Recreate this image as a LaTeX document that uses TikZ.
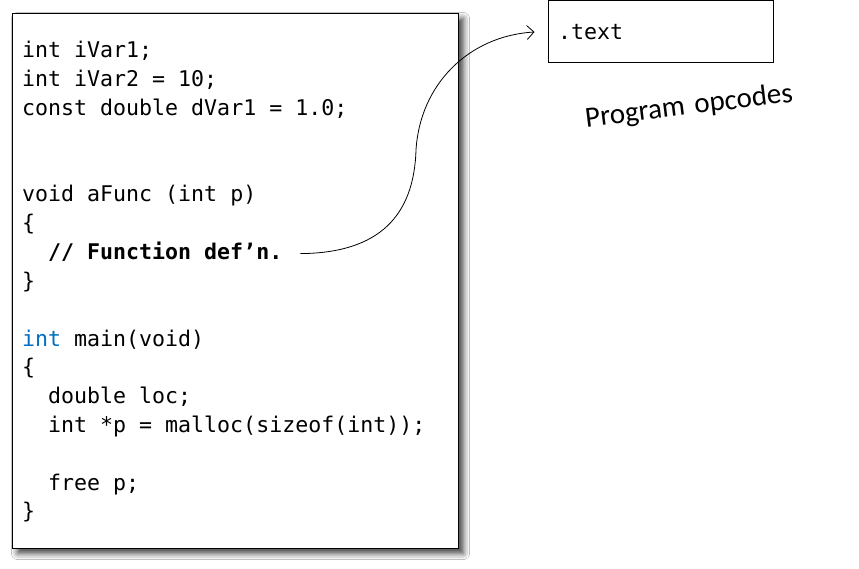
\documentclass[tikz,border=0pt]{standalone}
\usepackage{fontspec}
\setmonofont{DejaVu Sans Mono}
\newfontfamily\handfont{Carlito}
\usepackage{tikz}
\usetikzlibrary{arrows.meta,positioning,calc,shadows.blur}
\definecolor{kwblue}{HTML}{0070C0}

\begin{document}
\begin{tikzpicture}[
    x=1pt, y=-1pt,
    codeline/.style={anchor=base west, inner sep=0pt, font=\fontsize{21.6}{26}\selectfont\ttfamily},
    arrow/.style={-{Straight Barb[length=7pt,width=14pt]}, line width=0.8pt}
]
    \useasboundingbox[fill=white] (0,0) rectangle (859,569);

    % source listing
    \node[draw, line width=1pt, fill=white, anchor=north west, inner sep=0pt, minimum width=446pt, minimum height=535pt,
          blur shadow={shadow xshift=5pt, shadow yshift=-5pt, shadow blur radius=6pt, shadow opacity=75}] (source) at (12,13) {};

    \node[codeline] (var1) at (22,58) {int iVar1;};
    \node[codeline] (var2) at (22,86.8) {int iVar2 = 10;};
    \node[codeline] (dvar) at (22,115.6) {const double dVar1 = 1.0;};
    \node[codeline] (func) at (22,202) {void aFunc (int p)};
    \node[codeline] (fopen) at (22,230.8) {\{};
    \node[codeline] (fn) at (48,259.6) {\bfseries // Function def’n.};
    \node[codeline] (fclose) at (22,288.4) {\}};
    \node[codeline] (main) at (22,346) {\textcolor{kwblue}{int} main(void)};
    \node[codeline] (mopen) at (22,374.8) {\{};
    \node[codeline] (loc) at (48,403.6) {double loc;};
    \node[codeline] (alloc) at (48,432.4) {int *p = malloc(sizeof(int));};
    \node[codeline] (release) at (48,490) {free p;};
    \node[codeline] (mclose) at (22,518.8) {\}};

    % text section
    \node[draw, line width=1pt, minimum width=225pt, minimum height=62pt, text width=205pt, inner xsep=10pt,
          align=left, font=\fontsize{21.6}{26}\selectfont\ttfamily] (textsec) at (660.5,32) {.text};
    \node[rotate=7, inner sep=1pt, font=\fontsize{29}{32}\selectfont\handfont] (opcodes) at (689,107) {Program\,\,opcodes};

    \coordinate (fnend) at ($(fn.base east)+(18,-6)$);
    \coordinate (tip) at ($(textsec.west)+(-13,0)$);
    \draw[arrow] (fnend) .. controls (380,253) and (414,215) .. (416,150)
                         .. controls (420,85) and (468,36) .. (tip);
\end{tikzpicture}
\end{document}
